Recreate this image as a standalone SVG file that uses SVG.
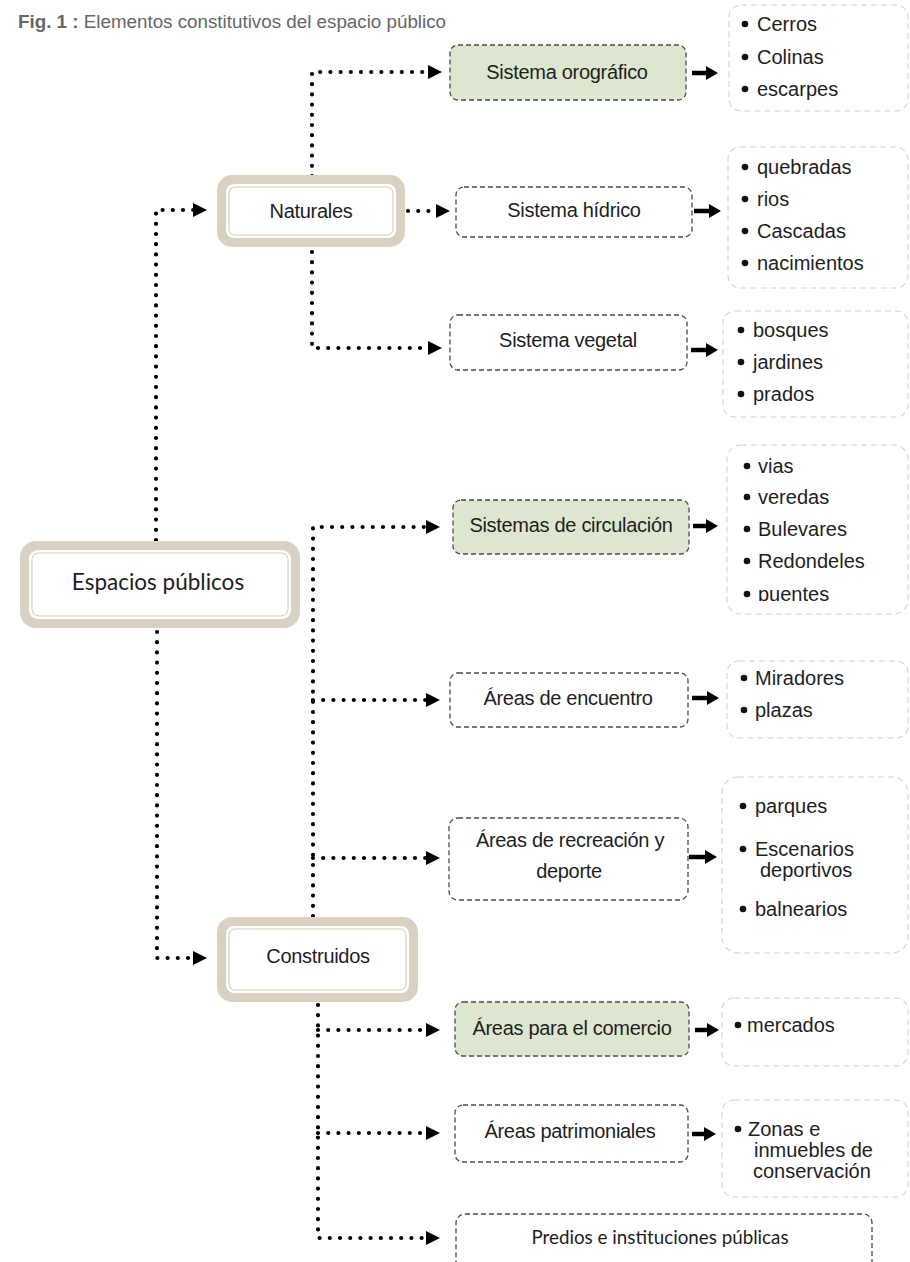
<svg xmlns="http://www.w3.org/2000/svg" width="910" height="1262" viewBox="0 0 910 1262">
<defs>
<style>
.title{font-family:"Liberation Sans",Arial,sans-serif;font-size:18.8px;fill:#666}
.nt{font-family:"Liberation Sans",Arial,sans-serif;font-size:20px;fill:#1e1e1e;text-anchor:middle;letter-spacing:-0.3px}
.it{font-family:"Liberation Sans",Arial,sans-serif;font-size:20px;fill:#1e1e1e}
.ct{font-family:Lato,"Open Sans",sans-serif;font-size:22.5px;fill:#1e1e1e;text-anchor:middle}
.outer{fill:#d9d2c2}
.inner{fill:#fff}
.innerline{fill:none;stroke:#e3ddd0;stroke-width:1.6}
.node{fill:#fff;stroke:#4a4a4a;stroke-width:1.3;stroke-dasharray:5 3}
.green{fill:#dde7d0}
.list{fill:#fff;stroke:#d2d2d2;stroke-width:1.1;stroke-dasharray:6 4}
.dot{fill:none;stroke:#000;stroke-width:4.2;stroke-linecap:round;stroke-dasharray:0 10.2}
.thick{fill:none;stroke:#000;stroke-width:4.5}
.b{fill:#111}
</style>
<marker id="dh" markerUnits="userSpaceOnUse" markerWidth="16" markerHeight="16" refX="1" refY="7" orient="auto">
<path d="M0,0 L14,7 L0,14 z" fill="#000"/>
</marker>
<marker id="th" markerUnits="userSpaceOnUse" markerWidth="16" markerHeight="16" refX="1" refY="7" orient="auto">
<path d="M0,0 L12,7 L0,14 z" fill="#000"/>
</marker>
<clipPath id="clipVias"><rect x="720" y="440" width="190" height="161"/></clipPath>
</defs>

<text class="title" x="18" y="28"><tspan font-weight="bold">Fig. 1 :</tspan> Elementos constitutivos del espacio público</text>

<g id="connectors">
<path class="dot" d="M156,540 V210 H194" marker-end="url(#dh)"/>
<path class="dot" d="M157,632 V958 H194" marker-end="url(#dh)"/>
<path class="dot" d="M312,176 V72 H429" marker-end="url(#dh)"/>
<path class="dot" d="M408,211 H437" marker-end="url(#dh)"/>
<path class="dot" d="M312,252 V348 H429" marker-end="url(#dh)"/>
<path class="dot" d="M313,916 V527 H427" marker-end="url(#dh)"/>
<path class="dot" d="M313,700 H427" marker-end="url(#dh)"/>
<path class="dot" d="M313,858 H427" marker-end="url(#dh)"/>
<path class="dot" d="M318,1005 V1238 H427" marker-end="url(#dh)"/>
<path class="dot" d="M318,1030 H427" marker-end="url(#dh)"/>
<path class="dot" d="M318,1133 H427" marker-end="url(#dh)"/>
<path class="thick" d="M692,73 H707" marker-end="url(#th)"/>
<path class="thick" d="M694,211 H710" marker-end="url(#th)"/>
<path class="thick" d="M691,350 H707" marker-end="url(#th)"/>
<path class="thick" d="M693,526 H707" marker-end="url(#th)"/>
<path class="thick" d="M692,698 H708" marker-end="url(#th)"/>
<path class="thick" d="M689,857 H706" marker-end="url(#th)"/>
<path class="thick" d="M695,1030 H708" marker-end="url(#th)"/>
<path class="thick" d="M692,1134 H705" marker-end="url(#th)"/>
</g>

<g id="espacios">
<rect class="outer" x="20" y="541" width="280" height="87" rx="16"/>
<rect class="inner" x="29" y="550" width="262" height="69" rx="9"/>
<rect class="innerline" x="32" y="553" width="256" height="63" rx="7"/>
<text class="ct" x="158" y="590">Espacios públicos</text>
</g>

<g id="naturales">
<rect class="outer" x="217" y="175" width="188" height="72" rx="15"/>
<rect class="inner" x="226" y="184" width="170" height="54" rx="8"/>
<rect class="innerline" x="229" y="187" width="164" height="48" rx="6"/>
<text class="nt" x="311" y="218">Naturales</text>
</g>

<g id="construidos">
<rect class="outer" x="217" y="917" width="201" height="85" rx="15"/>
<rect class="inner" x="226" y="926" width="183" height="67" rx="8"/>
<rect class="innerline" x="229" y="929" width="177" height="61" rx="6"/>
<text class="nt" x="318" y="963">Construidos</text>
</g>

<g id="orografico">
<rect class="node green" x="450" y="45" width="236" height="55" rx="8"/>
<text class="nt" x="567" y="79">Sistema orográfico</text>
</g>
<g id="hidrico">
<rect class="node" x="456" y="187" width="236" height="50" rx="8"/>
<text class="nt" x="574" y="217">Sistema hídrico</text>
</g>
<g id="vegetal">
<rect class="node" x="450" y="315" width="237" height="55" rx="8"/>
<text class="nt" x="568" y="347">Sistema vegetal</text>
</g>
<g id="circulacion">
<rect class="node green" x="453" y="500" width="236" height="54" rx="8"/>
<text class="nt" x="571" y="532">Sistemas de circulación</text>
</g>
<g id="encuentro">
<rect class="node" x="450" y="673" width="238" height="54" rx="8"/>
<text class="nt" x="568" y="705">Áreas de encuentro</text>
</g>
<g id="recreacion">
<rect class="node" x="449" y="818" width="239" height="82" rx="9"/>
<text class="nt" x="570" y="847">Áreas de recreación y</text>
<text class="nt" x="569" y="878">deporte</text>
</g>
<g id="comercio">
<rect class="node green" x="455" y="1002" width="234" height="54" rx="8"/>
<text class="nt" x="572" y="1035">Áreas para el comercio</text>
</g>
<g id="patrimoniales">
<rect class="node" x="455" y="1105" width="233" height="57" rx="8"/>
<text class="nt" x="570" y="1138">Áreas patrimoniales</text>
</g>
<g id="predios">
<rect class="node" x="456" y="1214" width="416" height="64" rx="9"/>
<text class="ct" x="660" y="1244" style="font-size:18.8px">Predios e instituciones públicas</text>
</g>

<g id="list-orografico">
<rect class="list" x="729" y="5" width="179" height="106" rx="12"/>
<circle class="b" cx="745" cy="24" r="3.3"/><text class="it" x="757" y="31">Cerros</text>
<circle class="b" cx="745" cy="57" r="3.3"/><text class="it" x="757" y="64">Colinas</text>
<circle class="b" cx="745" cy="89" r="3.3"/><text class="it" x="757" y="96">escarpes</text>
</g>
<g id="list-hidrico">
<rect class="list" x="728" y="147" width="180" height="141" rx="12"/>
<circle class="b" cx="745" cy="167" r="3.3"/><text class="it" x="757" y="174">quebradas</text>
<circle class="b" cx="745" cy="199" r="3.3"/><text class="it" x="757" y="206">rios</text>
<circle class="b" cx="745" cy="231" r="3.3"/><text class="it" x="757" y="238">Cascadas</text>
<circle class="b" cx="745" cy="263" r="3.3"/><text class="it" x="757" y="270">nacimientos</text>
</g>
<g id="list-vegetal">
<rect class="list" x="723" y="311" width="185" height="106" rx="12"/>
<circle class="b" cx="741" cy="330" r="3.3"/><text class="it" x="753" y="337">bosques</text>
<circle class="b" cx="741" cy="362" r="3.3"/><text class="it" x="753" y="369">jardines</text>
<circle class="b" cx="741" cy="394" r="3.3"/><text class="it" x="753" y="401">prados</text>
</g>
<g id="list-circulacion">
<rect class="list" x="727" y="445" width="181" height="169" rx="14"/>
<g clip-path="url(#clipVias)">
<circle class="b" cx="747" cy="466" r="3.3"/><text class="it" x="758" y="473">vias</text>
<circle class="b" cx="747" cy="497" r="3.3"/><text class="it" x="758" y="504">veredas</text>
<circle class="b" cx="747" cy="529" r="3.3"/><text class="it" x="758" y="536">Bulevares</text>
<circle class="b" cx="747" cy="561" r="3.3"/><text class="it" x="758" y="568">Redondeles</text>
<circle class="b" cx="747" cy="594" r="3.3"/><text class="it" x="758" y="601">puentes</text>
</g>
</g>
<g id="list-encuentro">
<rect class="list" x="727" y="661" width="181" height="77" rx="12"/>
<circle class="b" cx="744" cy="678" r="3.3"/><text class="it" x="755" y="685">Miradores</text>
<circle class="b" cx="744" cy="710" r="3.3"/><text class="it" x="755" y="717">plazas</text>
</g>
<g id="list-recreacion">
<rect class="list" x="722" y="777" width="186" height="176" rx="16"/>
<circle class="b" cx="743" cy="806" r="3.3"/><text class="it" x="755" y="813">parques</text>
<circle class="b" cx="743" cy="849" r="3.3"/><text class="it" x="755" y="856">Escenarios</text>
<text class="it" x="760" y="877">deportivos</text>
<circle class="b" cx="743" cy="909" r="3.3"/><text class="it" x="755" y="916">balnearios</text>
</g>
<g id="list-comercio">
<rect class="list" x="722" y="998" width="186" height="68" rx="12"/>
<circle class="b" cx="738" cy="1025" r="3.3"/><text class="it" x="747" y="1032">mercados</text>
</g>
<g id="list-patrimoniales">
<rect class="list" x="722" y="1100" width="186" height="97" rx="12"/>
<circle class="b" cx="738" cy="1129" r="3.3"/><text class="it" x="748" y="1136">Zonas e</text>
<text class="it" x="754" y="1157">inmuebles de</text>
<text class="it" x="753" y="1178">conservación</text>
</g>
</svg>
